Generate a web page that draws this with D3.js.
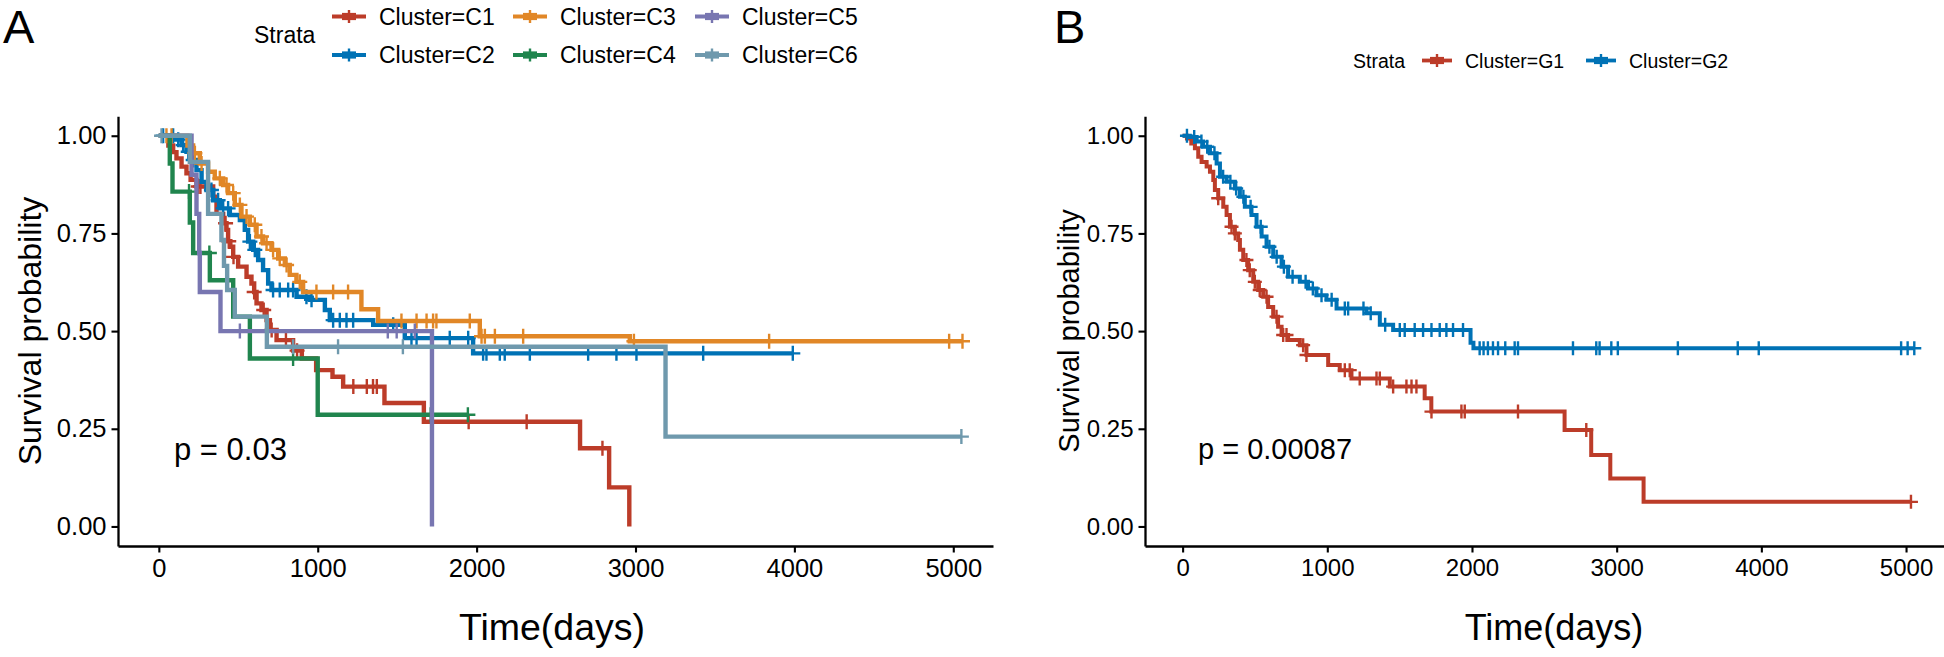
<!DOCTYPE html>
<html>
<head>
<meta charset="utf-8">
<script src="https://cdn.jsdelivr.net/npm/d3@7"></script>
<style>
  html, body { margin: 0; padding: 0; background: #fff; }
  svg { display: block; font-family: "Liberation Sans", Arial, Helvetica, sans-serif; }
</style>
</head>
<body>
<svg id="chart" width="1944" height="657"></svg>
<script>
// ---------------- DATA ----------------
// Panel A: six clusters (time in days, survival probability after each event)
const aNames = ["Cluster=C1", "Cluster=C2", "Cluster=C3", "Cluster=C4", "Cluster=C5", "Cluster=C6"];
const aColors = ["#BC3C29", "#0072B5", "#E18727", "#20854E", "#7876B1", "#6F99AD"];

const c1Times = [60, 90, 111, 143, 174, 200, 237, 342, 363, 405, 426, 436, 450, 468, 499, 552, 583, 600, 615, 646, 678, 699, 741, 845, 900, 990, 1093, 1160, 1420, 1668, 2651, 2834, 2961];
const c1Surv  = [0.975, 0.958, 0.942, 0.921, 0.904, 0.887, 0.870, 0.844, 0.800, 0.776, 0.759, 0.730, 0.716, 0.690, 0.665, 0.639, 0.622, 0.600, 0.571, 0.554, 0.528, 0.503, 0.477, 0.450, 0.430, 0.400, 0.383, 0.358, 0.316, 0.268, 0.200, 0.100, 0.0];
const c1Cens  = [248, 262, 420, 440, 470, 600, 660, 710, 800, 870, 1224, 1309, 1348, 1372, 1950, 2315, 2792];

const c2Times = [100, 143, 174, 206, 237, 269, 300, 342, 384, 447, 510, 541, 562, 594, 625, 656, 688, 709, 867, 950, 1045, 1076, 1349, 1548, 1978];
const c2Surv  = [0.990, 0.976, 0.959, 0.938, 0.912, 0.882, 0.861, 0.835, 0.814, 0.797, 0.784, 0.759, 0.729, 0.708, 0.682, 0.656, 0.622, 0.605, 0.588, 0.580, 0.554, 0.528, 0.516, 0.482, 0.443];
const c2Cens  = [27, 90, 122, 153, 185, 216, 331, 373, 405, 436, 573, 604, 719, 761, 814, 845, 929, 961, 1097, 1139, 1181, 1223, 1475, 1590, 1622, 1831, 1947, 2041, 2062, 2146, 2177, 2335, 2702, 2880, 3006, 3426, 3990];

const c3Times = [180, 216, 258, 310, 352, 405, 436, 478, 520, 573, 615, 656, 709, 751, 793, 824, 866, 908, 1275, 1380, 2020, 2964];
const c3Surv  = [0.975, 0.955, 0.929, 0.908, 0.891, 0.874, 0.853, 0.823, 0.793, 0.772, 0.742, 0.725, 0.708, 0.686, 0.669, 0.644, 0.626, 0.600, 0.556, 0.526, 0.487, 0.474];
const c3Cens  = [48, 80, 227, 269, 384, 426, 468, 510, 552, 604, 646, 678, 719, 761, 804, 887, 992, 1097, 1191, 1527, 1622, 1685, 1726, 1747, 1957, 2031, 2052, 2115, 2293, 2990, 3841, 4974, 5058];

const c4Times = [69, 86, 195, 216, 321, 468, 573, 1000];
const c4Surv  = [0.929, 0.857, 0.778, 0.700, 0.630, 0.537, 0.430, 0.286];
const c4Cens  = [190, 318, 845, 1711, 1945];

const c5Times = [206, 237, 254, 258, 388, 1719];
const c5Surv  = [0.900, 0.800, 0.700, 0.600, 0.500, 0.0];
const c5Cens  = [510, 1441, 1497, 1611];

const c6Times = [195, 310, 394, 410, 430, 478, 680, 3189];
const c6Surv  = [0.933, 0.800, 0.733, 0.667, 0.605, 0.537, 0.460, 0.230];
const c6Cens  = [17, 845, 1128, 1536, 5051];

const aPval = "p = 0.03";

// Panel B: two clusters
const bNames = ["Cluster=G1", "Cluster=G2"];
const bColors = ["#BC3C29", "#0072B5"];

const g1Times = [30, 60, 85, 108, 131, 166, 189, 212, 223, 246, 281, 304, 327, 361, 384, 396, 419, 453, 488, 522, 557, 591, 626, 660, 684, 729, 810, 856, 1006, 1086, 1167, 1432, 1673, 1719, 2640, 2824, 2956, 3186];
const g1Surv  = [0.993, 0.980, 0.968, 0.946, 0.933, 0.921, 0.908, 0.887, 0.861, 0.840, 0.818, 0.797, 0.767, 0.750, 0.733, 0.708, 0.682, 0.656, 0.626, 0.605, 0.588, 0.562, 0.537, 0.511, 0.490, 0.477, 0.464, 0.439, 0.413, 0.400, 0.379, 0.358, 0.328, 0.294, 0.247, 0.183, 0.123, 0.063];
const g1Cens  = [246, 338, 361, 441, 464, 499, 533, 580, 649, 695, 718, 833, 856, 1121, 1155, 1224, 1340, 1363, 1455, 1547, 1582, 1616, 1720, 1927, 1950, 2318, 2790, 5034];

const g2Times = [50, 97, 142, 189, 235, 258, 304, 361, 396, 430, 476, 511, 546, 580, 626, 684, 729, 810, 867, 925, 994, 1064, 1271, 1363, 1455, 1990, 2010];
const g2Surv  = [0.997, 0.985, 0.972, 0.955, 0.929, 0.895, 0.882, 0.865, 0.844, 0.818, 0.797, 0.767, 0.742, 0.716, 0.690, 0.665, 0.639, 0.626, 0.609, 0.592, 0.580, 0.558, 0.546, 0.516, 0.503, 0.470, 0.456];
const g2Cens  = [30, 80, 130, 170, 220, 280, 330, 370, 420, 470, 540, 600, 650, 700, 760, 850, 900, 960, 1030, 1121, 1144, 1250, 1300, 1400, 1501, 1535, 1604, 1662, 1720, 1777, 1823, 1869, 1938, 2053, 2080, 2110, 2145, 2180, 2230, 2295, 2318, 2698, 2859, 2882, 2963, 3008, 3423, 3837, 3982, 4966, 5011, 5057];

const bPval = "p = 0.00087";

const xTicks = [0, 1000, 2000, 3000, 4000, 5000];
const xTickLabels = ["0", "1000", "2000", "3000", "4000", "5000"];
const yTicks = [0, 0.25, 0.5, 0.75, 1.0];
const yTickLabels = ["0.00", "0.25", "0.50", "0.75", "1.00"];
const xTitle = "Time(days)";
const yTitle = "Survival probability";
const legendTitle = "Strata";

// ---------------- DRAWING ----------------
const svg = d3.select("#chart");
svg.append("rect").attr("width", 1944).attr("height", 657).attr("fill", "#fff");

function survAt(times, surv, t) {
  let s = 1;
  for (let i = 0; i < times.length; i++) { if (times[i] <= t) s = surv[i]; else break; }
  return s;
}

function buildSeries(times, surv, cens) {
  const pts = [[0, 1]];
  times.forEach((t, i) => pts.push([t, surv[i]]));
  const lastT = Math.max(times[times.length - 1], cens.length ? d3.max(cens) : 0);
  pts.push([lastT, survAt(times, surv, lastT)]);
  const marks = cens.map(c => [c, survAt(times, surv, c)]);
  return { pts, marks };
}

function drawPanel(cfg) {
  const g = svg.append("g");
  const x = d3.scaleLinear().domain(cfg.xDomain).range(cfg.xRange);
  const y = d3.scaleLinear().domain([-0.05, 1.05]).range([546, 116.2]);

  // axes
  const xAxis = d3.axisBottom(x).tickValues(xTicks).tickFormat((d, i) => xTickLabels[i])
    .tickSizeInner(6.5).tickSizeOuter(0).tickPadding(5);
  const gx = g.append("g").attr("transform", "translate(0,546)").call(xAxis);
  const yAxis = d3.axisLeft(y).tickValues(yTicks).tickFormat((d, i) => yTickLabels[i])
    .tickSizeInner(6.5).tickSizeOuter(0).tickPadding(5);
  const gy = g.append("g").attr("transform", `translate(${cfg.xRange[0]},0)`).call(yAxis);
  [gx, gy].forEach(a => {
    a.select(".domain").attr("stroke", "#000").attr("stroke-width", 2.3);
    a.selectAll(".tick line").attr("stroke", "#000").attr("stroke-width", 2.1);
    a.selectAll(".tick text").attr("fill", "#000").attr("font-size", cfg.tickFont)
      .attr("font-family", '"Liberation Sans", Arial, sans-serif');
  });
  gx.selectAll(".tick text").attr("dy", null).attr("y", cfg.tickFont * 0.72 + 12.5);

  const line = d3.line().x(d => x(d[0])).y(d => y(d[1])).curve(d3.curveStepAfter);
  cfg.series.forEach(s => {
    const built = buildSeries(s.times, s.surv, s.cens);
    g.append("path").datum(built.pts).attr("d", line)
      .attr("fill", "none").attr("stroke", s.color).attr("stroke-width", cfg.lineW)
      .attr("stroke-linejoin", "miter");
    const h = cfg.markH;
    g.append("g").selectAll("path").data(built.marks).join("path")
      .attr("d", d => `M${x(d[0]) - h},${y(d[1])}H${x(d[0]) + h}M${x(d[0])},${y(d[1]) - h}V${y(d[1]) + h}`)
      .attr("stroke", s.color).attr("stroke-width", 2.4).attr("fill", "none");
  });

  // titles
  g.append("text").attr("x", cfg.xTitleX).attr("y", 640).attr("text-anchor", "middle")
    .attr("font-size", cfg.xTitleFont).attr("fill", "#000").text(xTitle);
  g.append("text").attr("transform", `translate(${cfg.yTitleX},331) rotate(-90)`)
    .attr("text-anchor", "middle").attr("font-size", cfg.yTitleFont).attr("fill", "#000").text(yTitle);
  g.append("text").attr("x", cfg.pX).attr("y", cfg.pY).attr("font-size", cfg.pFont).attr("fill", "#000").text(cfg.pval);
  g.append("text").attr("x", cfg.letterX).attr("y", 43).attr("font-size", 47).attr("fill", "#000").text(cfg.letter);

  // legend
  g.append("text").attr("x", cfg.legend.titleX).attr("y", cfg.legend.titleY)
    .attr("font-size", cfg.legend.font).attr("fill", "#000").text(legendTitle);
  cfg.series.forEach((s, i) => {
    const kx = cfg.legend.keyX[i], ky = cfg.legend.keyY[i], kw = cfg.legend.keyW;
    const k = g.append("g");
    k.append("line").attr("x1", kx).attr("x2", kx + kw).attr("y1", ky).attr("y2", ky)
      .attr("stroke", s.color).attr("stroke-width", 3.8);
    k.append("rect").attr("x", kx + kw / 2 - 7).attr("y", ky - 3.6).attr("width", 14).attr("height", 7.2).attr("fill", s.color);
    k.append("line").attr("x1", kx + kw / 2).attr("x2", kx + kw / 2).attr("y1", ky - 6.5).attr("y2", ky + 6.5)
      .attr("stroke", s.color).attr("stroke-width", 2.4);
    g.append("text").attr("x", kx + kw + cfg.legend.gap).attr("y", ky)
      .attr("dy", "0.36em").attr("font-size", cfg.legend.font).attr("fill", "#000").text(s.name);
  });
}

const aSeries = [
  { times: c1Times, surv: c1Surv, cens: c1Cens },
  { times: c2Times, surv: c2Surv, cens: c2Cens },
  { times: c3Times, surv: c3Surv, cens: c3Cens },
  { times: c4Times, surv: c4Surv, cens: c4Cens },
  { times: c5Times, surv: c5Surv, cens: c5Cens },
  { times: c6Times, surv: c6Surv, cens: c6Cens }
].map((s, i) => Object.assign(s, { name: aNames[i], color: aColors[i] }));

drawPanel({
  xDomain: [-257, 5250], xRange: [118, 993],
  series: aSeries,
  tickFont: 25.5, lineW: 4.4, markH: 7.5,
  xTitleX: 552, xTitleFont: 37.5, yTitleX: 41, yTitleFont: 32,
  pX: 174, pY: 460, pFont: 31, pval: aPval,
  letter: "A", letterX: 3,
  legend: { titleX: 254, titleY: 43.3, font: 23, keyW: 34, gap: 13,
    keyX: [332, 332, 513, 513, 695, 695], keyY: [16.5, 55, 16.5, 55, 16.5, 55] }
});

const bSeries = [
  { times: g1Times, surv: g1Surv, cens: g1Cens },
  { times: g2Times, surv: g2Surv, cens: g2Cens }
].map((s, i) => Object.assign(s, { name: bNames[i], color: bColors[i] }));

drawPanel({
  xDomain: [-260, 5290], xRange: [1145, 1948],
  series: bSeries,
  tickFont: 24, lineW: 4.0, markH: 7,
  xTitleX: 1554, xTitleFont: 36, yTitleX: 1079, yTitleFont: 29,
  pX: 1198, pY: 459, pFont: 29, pval: bPval,
  letter: "B", letterX: 1054,
  legend: { titleX: 1353, titleY: 68, font: 19.5, keyW: 30, gap: 13,
    keyX: [1422, 1586], keyY: [60.5, 60.5] }
});
</script>
</body>
</html>
